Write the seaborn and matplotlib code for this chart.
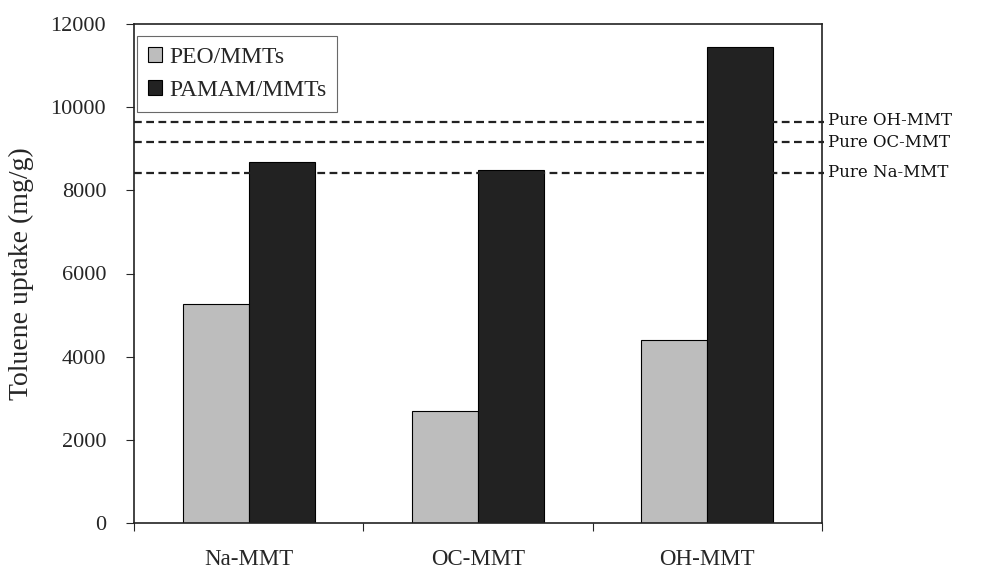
import matplotlib
matplotlib.use("Agg")
import matplotlib.pyplot as plt
import seaborn as sns
import pandas as pd
from matplotlib.ticker import FixedLocator

categories = ["Na-MMT", "OC-MMT", "OH-MMT"]
series_names = ["PEO/MMTs", "PAMAM/MMTs"]
peo_values = [5270, 2700, 4400]
pamam_values = [8670, 8480, 11450]
pure_labels = ["Pure OH-MMT", "Pure OC-MMT", "Pure Na-MMT"]
pure_values = [9650, 9170, 8410]
y_ticks = [0, 2000, 4000, 6000, 8000, 10000, 12000]

df = pd.DataFrame({
    "cat": categories * 2,
    "series": [series_names[0]] * 3 + [series_names[1]] * 3,
    "value": peo_values + pamam_values,
})

sns.set_style("white")
plt.rcParams["font.family"] = ["Liberation Serif", "DejaVu Serif"]

fig = plt.figure(figsize=(9.81, 5.74), dpi=100)
ax = fig.add_axes([134 / 981, 1 - 523 / 574, (822 - 134) / 981, (523 - 24) / 574])

sns.barplot(data=df, x="cat", y="value", hue="series", order=categories,
            hue_order=series_names, palette=["#bdbdbd", "#222222"],
            width=0.575, edgecolor="black", linewidth=0.8, ax=ax, legend=True)

for v in pure_values:
    ax.plot([-0.5, 2.51], [v, v], ls=(0, (3.5, 2)), color="#222222", lw=1.6,
            clip_on=False, zorder=3)

# baseline offsets (data units) for the right-hand labels
offs = [-80, -120, -90]
for lab, v, o in zip(pure_labels, pure_values, offs):
    ax.text(2.525, v + o, lab, va="baseline", ha="left", fontsize=12,
            family=["DejaVu Serif"], color="#111111", clip_on=False)

ax.set_xlim(-0.5, 2.5)
ax.set_ylim(0, 12000)
ax.set_yticks(y_ticks)
ax.set_yticklabels([str(t) for t in y_ticks], fontsize=16)
ax.set_xticks(range(3))
ax.set_xticklabels(categories, fontsize=16.5)
ax.xaxis.set_minor_locator(FixedLocator([-0.5, 0.5, 1.5, 2.5]))
ax.tick_params(axis="x", which="major", length=0, pad=19)
ax.tick_params(axis="x", which="minor", length=6, width=0.8, direction="out", bottom=True)
ax.tick_params(axis="y", which="major", length=6, width=0.8, direction="out", left=True, pad=14)
ax.set_xlabel("")
ax.set_ylabel("Toluene uptake (mg/g)", fontsize=20, labelpad=12)

for s in ax.spines.values():
    s.set_visible(True)
    s.set_color("#222222")
    s.set_linewidth(1.2)

leg = ax.legend(loc="upper left", bbox_to_anchor=(0.005, 0.975), fontsize=17,
                frameon=True, fancybox=False, edgecolor="#444444",
                handlelength=0.6, handleheight=0.6, handletextpad=0.3,
                borderpad=0.45, labelspacing=0.5, borderaxespad=0)
leg.get_frame().set_linewidth(0.8)

fig.savefig("out.png", dpi=100)
